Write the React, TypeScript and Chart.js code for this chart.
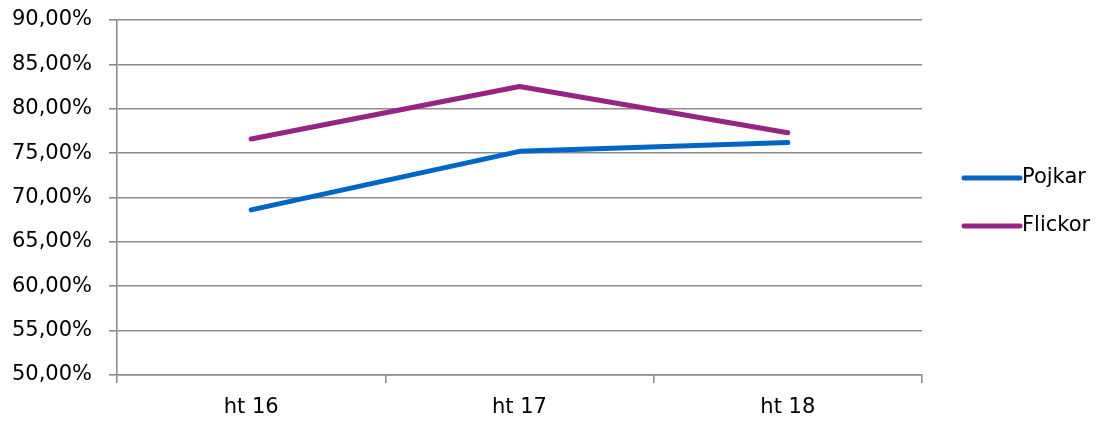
import React, { useEffect, useRef } from "react";
import { Chart, registerables } from "chart.js";

Chart.register(...registerables);

const categories = ["ht 16", "ht 17", "ht 18"];
const pojkar = [0.686, 0.752, 0.762];
const flickor = [0.766, 0.825, 0.773];
const seriesNames = ["Pojkar", "Flickor"];
const seriesColors = ["#0066C6", "#972484"];

const FONT = "'DejaVu Sans', sans-serif";
const FONT_SIZE = 21;
const GRID_COLOR = "#8c8c8c";
const GRID_WIDTH = 1.6;

const legendPlugin = {
  id: "sideLegend",
  afterDraw(chart: any) {
    const ctx = chart.ctx;
    const x0 = chart.chartArea.right + 42;
    const len = 56;
    const midY = (chart.chartArea.top + chart.chartArea.bottom) / 2 + 4.5;
    const gap = 48;
    const n = chart.data.datasets.length;
    ctx.save();
    chart.data.datasets.forEach((ds: any, i: number) => {
      const y = midY + (i - (n - 1) / 2) * gap;
      ctx.beginPath();
      ctx.strokeStyle = ds.borderColor;
      ctx.lineWidth = 5;
      ctx.lineCap = "round";
      ctx.moveTo(x0, y);
      ctx.lineTo(x0 + len, y);
      ctx.stroke();
      ctx.fillStyle = "#000";
      ctx.font = `${FONT_SIZE}px ${FONT}`;
      ctx.textBaseline = "middle";
      ctx.textAlign = "left";
      ctx.fillText(ds.label, x0 + len + 2, y);
    });
    ctx.restore();
  },
};

export default function App() {
  const ref = useRef<HTMLCanvasElement>(null);
  useEffect(() => {
    document.body.style.margin = "0";
    const canvas = ref.current!;
    const chart = new Chart(canvas, {
      type: "line",
      data: {
        labels: categories,
        datasets: [
          {
            label: seriesNames[0],
            data: pojkar,
            borderColor: seriesColors[0],
            backgroundColor: seriesColors[0],
            borderWidth: 5,
            borderCapStyle: "round",
            borderJoinStyle: "round",
            pointRadius: 0,
            tension: 0,
          },
          {
            label: seriesNames[1],
            data: flickor,
            borderColor: seriesColors[1],
            backgroundColor: seriesColors[1],
            borderWidth: 5,
            borderCapStyle: "round",
            borderJoinStyle: "round",
            pointRadius: 0,
            tension: 0,
          },
        ],
      },
      options: {
        animation: false,
        responsive: false,
        devicePixelRatio: 1,
        layout: { padding: { top: 20, right: 177, left: 0, bottom: 0 } },
        plugins: {
          legend: { display: false },
          tooltip: { enabled: false },
        },
        scales: {
          x: {
            offset: true,
            grid: {
              offset: true,
              drawOnChartArea: false,
              drawTicks: true,
              tickLength: 8,
              color: GRID_COLOR,
              lineWidth: GRID_WIDTH,
            },
            border: { display: true, color: GRID_COLOR, width: GRID_WIDTH },
            ticks: {
              color: "#000",
              font: { family: FONT, size: FONT_SIZE },
              padding: 12,
            },
            afterFit: (s: any) => {
              s.height = 46;
              s.paddingLeft = 0;
              s.paddingRight = 0;
            },
          },
          y: {
            min: 0.5,
            max: 0.9,
            grid: {
              color: GRID_COLOR,
              lineWidth: GRID_WIDTH,
              tickLength: 8,
            },
            border: { display: true, color: GRID_COLOR, width: GRID_WIDTH },
            ticks: {
              stepSize: 0.05,
              color: "#000",
              font: { family: FONT, size: FONT_SIZE },
              padding: 17,
              callback: (v: any) =>
                (Number(v) * 100).toFixed(2).replace(".", ",") + "%",
            },
            afterFit: (s: any) => {
              s.width = 117;
              s.paddingTop = 0;
              s.paddingBottom = 0;
            },
          },
        },
      },
      plugins: [legendPlugin],
    });
    return () => chart.destroy();
  }, []);
  return (
    <div style={{ width: 1099, height: 421 }}>
      <canvas ref={ref} width={1099} height={421} style={{ display: "block" }} />
    </div>
  );
}
